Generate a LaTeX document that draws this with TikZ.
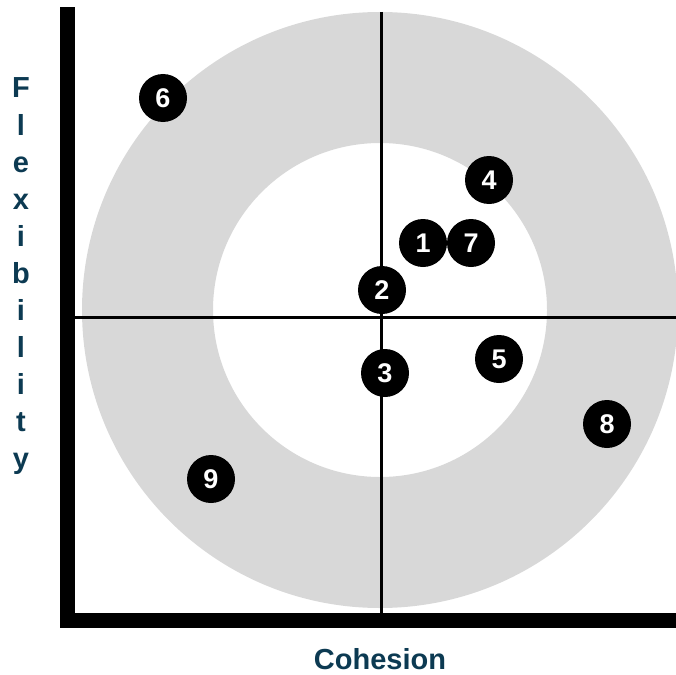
\documentclass[tikz,border=0pt]{standalone}
\usepackage{fontspec}
\setmainfont{Liberation Sans}
\definecolor{ringgray}{RGB}{216,216,216}
\definecolor{labelteal}{RGB}{12,58,82}
\tikzset{
  dot/.style={circle,fill=black,minimum size=48pt,inner sep=0pt,text=white,font=\fontsize{27}{27}\selectfont\bfseries},
  axislbl/.style={text=labelteal,font=\fontsize{29}{29}\selectfont\bfseries,inner sep=0pt},
  crossline/.style={line width=3pt,black}
}
\begin{document}
\begin{tikzpicture}[x=1pt,y=-1pt]
\useasboundingbox (0,0) rectangle (676,674);
\begin{scope}
\clip (0,0) rectangle (676,674);
% ring
\fill[ringgray,even odd rule] (380,310) circle[radius=298pt] (380,310) circle[radius=167pt];
\end{scope}
% cross lines
\coordinate (vtop) at (381,12);
\coordinate (vbot) at (381,613);
\coordinate (hleft) at (75,317);
\coordinate (hright) at (676,317);
\draw[crossline] (vtop) -- (vbot);
\draw[crossline] (hleft) -- (hright);
% axes
\fill[black] (60,7) rectangle (75,628);
\fill[black] (60,613) rectangle (676,628);
% dots
\node[dot] (d1) at (423,243) {1};
\node[dot] (d7) at (471,243) {7};
\node[dot] (d2) at (382,290) {2};
\node[dot] (d3) at (385,373) {3};
\node[dot] (d5) at (499,359) {5};
\node[dot] (d4) at (489,180) {4};
\node[dot] (d6) at (163,98) {6};
\node[dot] (d8) at (607,424) {8};
\node[dot] (d9) at (211,479) {9};
% labels
\node[axislbl,anchor=base] (cohesion) at (380,669) {Cohesion};
\foreach \ch [count=\k from 0] in {F,l,e,x,i,b,i,l,i,t,y}{
  \node[axislbl,anchor=base] (flex\k) at (21,98+37*\k) {\ch};
}
\end{tikzpicture}
\end{document}
